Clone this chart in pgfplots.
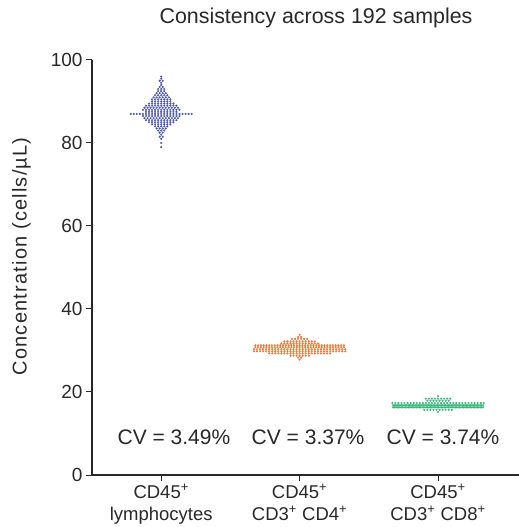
\documentclass[border=0pt]{standalone}
\usepackage{pgfplots}
\pgfplotsset{compat=1.18}
\usepackage{fontspec}
\setmainfont{Liberation Sans}
\newfontfamily\ylabfont[LetterSpace=6]{Liberation Sans}
\definecolor{dotblue}{RGB}{72,82,170}
\definecolor{dotorange}{RGB}{242,114,46}
\definecolor{dotgreen}{RGB}{56,182,122}
\definecolor{txt}{RGB}{40,40,40}
\begin{document}
\begin{tikzpicture}
\useasboundingbox (0,0) rectangle (519bp,527bp);
\begin{axis}[
  at={(92bp,52bp)}, anchor=south west,
  scale only axis, width=427bp, height=415bp,
  xmin=0.5, xmax=3.585, ymin=0, ymax=100,
  axis x line*=bottom, axis y line*=left,
  axis line style={-, txt, line width=1.2bp},
  xtick={1,2,3},
  xticklabels={{CD45\textsuperscript{+}\\lymphocytes},{CD45\textsuperscript{+}\\CD3\textsuperscript{+} CD4\textsuperscript{+}},{CD45\textsuperscript{+}\\CD3\textsuperscript{+} CD8\textsuperscript{+}}},
  ytick={0,20,40,60,80,100},
  tick align=outside, major tick length=6bp,
  tick style={txt, line width=1bp},
  tick label style={font=\fontsize{19bp}{22bp}\selectfont, text=txt},
  xticklabel style={align=center, font=\fontsize{18.5bp}{22bp}\selectfont},
  /pgf/number format/assume math mode=true,
  ylabel={Concentration (cells/µL)},
  ylabel style={at={(axis description cs:-0.165,0.527)}, anchor=center, font=\ylabfont\fontsize{20bp}{24bp}\selectfont, text=txt},
  clip=false,
]
% CD45+ lymphocytes
\addplot[only marks, mark=*, mark size=0.95bp, mark options={draw=dotblue, fill=dotblue, line width=0.2bp}] coordinates {
(1,96) (1,95.5) (0.989,95) (1.011,95) (1,94.5) (1,94)
(0.989,93.5) (1.011,93.5)
(0.978,93) (1,93) (1.022,93)
(0.978,92.5) (1,92.5) (1.022,92.5)
(0.967,92) (0.989,92) (1.011,92) (1.033,92)
(0.956,91.5) (0.978,91.5) (1,91.5) (1.022,91.5) (1.044,91.5)
(0.945,91) (0.967,91) (0.989,91) (1.011,91) (1.033,91) (1.055,91)
(0.934,90.5) (0.956,90.5) (0.978,90.5) (1,90.5) (1.022,90.5) (1.044,90.5) (1.066,90.5)
(0.934,90) (0.956,90) (0.978,90) (1,90) (1.022,90) (1.044,90) (1.066,90)
(0.912,89.5) (0.934,89.5) (0.956,89.5) (0.978,89.5) (1,89.5) (1.022,89.5) (1.044,89.5) (1.066,89.5) (1.088,89.5)
(0.890,89) (0.912,89) (0.934,89) (0.956,89) (0.978,89) (1,89) (1.022,89) (1.044,89) (1.066,89) (1.088,89) (1.110,89)
(0.879,88.5) (0.901,88.5) (0.923,88.5) (0.945,88.5) (0.967,88.5) (0.989,88.5) (1.011,88.5) (1.033,88.5) (1.055,88.5) (1.077,88.5) (1.099,88.5) (1.121,88.5)
(0.868,88) (0.890,88) (0.912,88) (0.934,88) (0.956,88) (0.978,88) (1,88) (1.022,88) (1.044,88) (1.066,88) (1.088,88) (1.110,88) (1.132,88)
(0.890,87.5) (0.912,87.5) (0.934,87.5) (0.956,87.5) (0.978,87.5) (1,87.5) (1.022,87.5) (1.044,87.5) (1.066,87.5) (1.088,87.5) (1.110,87.5)
(0.780,87) (0.802,87) (0.824,87) (0.846,87) (0.868,87) (0.890,87) (0.912,87) (0.934,87) (0.956,87) (0.978,87) (1,87) (1.022,87) (1.044,87) (1.066,87) (1.088,87) (1.110,87) (1.132,87) (1.154,87) (1.176,87) (1.198,87) (1.220,87)
(0.868,86.5) (0.890,86.5) (0.912,86.5) (0.934,86.5) (0.956,86.5) (0.978,86.5) (1,86.5) (1.022,86.5) (1.044,86.5) (1.066,86.5) (1.088,86.5) (1.110,86.5) (1.132,86.5)
(0.879,86) (0.901,86) (0.923,86) (0.945,86) (0.967,86) (0.989,86) (1.011,86) (1.033,86) (1.055,86) (1.077,86) (1.099,86) (1.121,86)
(0.890,85.5) (0.912,85.5) (0.934,85.5) (0.956,85.5) (0.978,85.5) (1,85.5) (1.022,85.5) (1.044,85.5) (1.066,85.5) (1.088,85.5) (1.110,85.5)
(0.912,85) (0.934,85) (0.956,85) (0.978,85) (1,85) (1.022,85) (1.044,85) (1.066,85) (1.088,85)
(0.934,84.5) (0.956,84.5) (0.978,84.5) (1,84.5) (1.022,84.5) (1.044,84.5) (1.066,84.5)
(0.956,84) (0.978,84) (1,84) (1.022,84) (1.044,84)
(0.967,83.5) (0.989,83.5) (1.011,83.5) (1.033,83.5)
(0.978,83) (1,83) (1.022,83)
(0.989,82.5) (1.011,82.5)
(1,82)
(0.989,81.5) (1.011,81.5)
(1,81) (1,80) (1,79)
};
% CD45+ CD3+ CD4+
\addplot[only marks, mark=*, mark size=0.95bp, mark options={draw=dotorange, fill=dotorange, line width=0.2bp}] coordinates {
(2,33.8)
(1.989,33.25) (2.011,33.25)
(1.945,32.8) (1.967,32.8) (1.989,32.8) (2.011,32.8) (2.033,32.8) (2.055,32.8)
(1.890,32.2) (1.912,32.2) (1.934,32.2) (1.956,32.2) (1.978,32.2) (2,32.2) (2.022,32.2) (2.044,32.2) (2.066,32.2) (2.088,32.2) (2.110,32.2)
(1.868,31.7) (1.890,31.7) (1.912,31.7) (1.934,31.7) (1.956,31.7) (1.978,31.7) (2,31.7) (2.022,31.7) (2.044,31.7) (2.066,31.7) (2.088,31.7) (2.110,31.7) (2.132,31.7)
(1.68,31.25) (1.70,31.25) (1.72,31.25) (1.74,31.25) (1.76,31.25) (1.78,31.25) (1.80,31.25) (1.82,31.25) (1.84,31.25) (1.86,31.25) (1.88,31.25) (1.90,31.25) (1.92,31.25) (1.94,31.25) (1.96,31.25) (1.98,31.25) (2.00,31.25)
(2.02,31.25) (2.04,31.25) (2.06,31.25) (2.08,31.25) (2.10,31.25) (2.12,31.25) (2.14,31.25) (2.16,31.25) (2.18,31.25) (2.20,31.25) (2.22,31.25) (2.24,31.25) (2.26,31.25) (2.28,31.25) (2.30,31.25) (2.32,31.25)
(1.68,30.8) (1.70,30.8) (1.72,30.8) (1.74,30.8) (1.76,30.8) (1.78,30.8) (1.80,30.8) (1.82,30.8) (1.84,30.8) (1.86,30.8) (1.88,30.8) (1.90,30.8) (1.92,30.8) (1.94,30.8) (1.96,30.8) (1.98,30.8) (2.00,30.8)
(2.02,30.8) (2.04,30.8) (2.06,30.8) (2.08,30.8) (2.10,30.8) (2.12,30.8) (2.14,30.8) (2.16,30.8) (2.18,30.8) (2.20,30.8) (2.22,30.8) (2.24,30.8) (2.26,30.8) (2.28,30.8) (2.30,30.8) (2.32,30.8)
(1.670,30.3) (1.692,30.3) (1.714,30.3) (1.736,30.3) (1.758,30.3) (1.780,30.3) (1.802,30.3) (1.824,30.3) (1.846,30.3) (1.868,30.3) (1.890,30.3) (1.912,30.3) (1.934,30.3) (1.956,30.3) (1.978,30.3) (2,30.3)
(2.022,30.3) (2.044,30.3) (2.066,30.3) (2.088,30.3) (2.110,30.3) (2.132,30.3) (2.154,30.3) (2.176,30.3) (2.198,30.3) (2.220,30.3) (2.242,30.3) (2.264,30.3) (2.286,30.3) (2.308,30.3) (2.330,30.3)
(1.670,29.8) (1.692,29.8) (1.714,29.8) (1.736,29.8) (1.758,29.8) (1.780,29.8) (1.802,29.8) (1.824,29.8) (1.846,29.8) (1.868,29.8) (1.890,29.8) (1.912,29.8) (1.934,29.8) (1.956,29.8) (1.978,29.8) (2,29.8)
(2.022,29.8) (2.044,29.8) (2.066,29.8) (2.088,29.8) (2.110,29.8) (2.132,29.8) (2.154,29.8) (2.176,29.8) (2.198,29.8) (2.220,29.8) (2.242,29.8) (2.264,29.8) (2.286,29.8) (2.308,29.8) (2.330,29.8)
(1.780,29.3) (1.802,29.3) (1.824,29.3) (1.846,29.3) (1.868,29.3) (1.890,29.3) (1.912,29.3) (1.934,29.3) (1.956,29.3) (1.978,29.3) (2,29.3)
(2.022,29.3) (2.044,29.3) (2.066,29.3) (2.088,29.3) (2.110,29.3) (2.132,29.3) (2.154,29.3) (2.176,29.3) (2.198,29.3) (2.220,29.3)
(1.934,28.75) (1.956,28.75) (1.978,28.75) (2,28.75) (2.022,28.75) (2.044,28.75) (2.066,28.75)
(1.989,28.3) (2.011,28.3)
(2,27.8)
};
% CD45+ CD3+ CD8+
\addplot[only marks, mark=*, mark size=0.95bp, mark options={draw=dotgreen, fill=dotgreen, line width=0.2bp}] coordinates {
(3,19)
(2.912,18.4) (2.934,18.4) (2.956,18.4) (2.978,18.4) (3,18.4) (3.022,18.4) (3.044,18.4) (3.066,18.4) (3.088,18.4)
(2.923,17.9) (2.945,17.9) (2.967,17.9) (2.989,17.9) (3.011,17.9) (3.033,17.9) (3.055,17.9) (3.077,17.9)
(2.670,17.35) (2.692,17.35) (2.714,17.35) (2.736,17.35) (2.758,17.35) (2.780,17.35) (2.802,17.35) (2.824,17.35) (2.846,17.35) (2.868,17.35) (2.890,17.35) (2.912,17.35) (2.934,17.35) (2.956,17.35) (2.978,17.35) (3,17.35)
(3.022,17.35) (3.044,17.35) (3.066,17.35) (3.088,17.35) (3.110,17.35) (3.132,17.35) (3.154,17.35) (3.176,17.35) (3.198,17.35) (3.220,17.35) (3.242,17.35) (3.264,17.35) (3.286,17.35) (3.308,17.35) (3.330,17.35)
(2.675,16.8) (2.685,16.8) (2.695,16.8) (2.705,16.8) (2.715,16.8) (2.725,16.8) (2.735,16.8) (2.745,16.8) (2.755,16.8) (2.765,16.8) (2.775,16.8) (2.785,16.8) (2.795,16.8) (2.805,16.8) (2.815,16.8) (2.825,16.8) (2.835,16.8)
(2.845,16.8) (2.855,16.8) (2.865,16.8) (2.875,16.8) (2.885,16.8) (2.895,16.8) (2.905,16.8) (2.915,16.8) (2.925,16.8) (2.935,16.8) (2.945,16.8) (2.955,16.8) (2.965,16.8) (2.975,16.8) (2.985,16.8) (2.995,16.8)
(3.005,16.8) (3.015,16.8) (3.025,16.8) (3.035,16.8) (3.045,16.8) (3.055,16.8) (3.065,16.8) (3.075,16.8) (3.085,16.8) (3.095,16.8) (3.105,16.8) (3.115,16.8) (3.125,16.8) (3.135,16.8) (3.145,16.8) (3.155,16.8) (3.165,16.8)
(3.175,16.8) (3.185,16.8) (3.195,16.8) (3.205,16.8) (3.215,16.8) (3.225,16.8) (3.235,16.8) (3.245,16.8) (3.255,16.8) (3.265,16.8) (3.275,16.8) (3.285,16.8) (3.295,16.8) (3.305,16.8) (3.315,16.8) (3.325,16.8)
(2.675,16.3) (2.685,16.3) (2.695,16.3) (2.705,16.3) (2.715,16.3) (2.725,16.3) (2.735,16.3) (2.745,16.3) (2.755,16.3) (2.765,16.3) (2.775,16.3) (2.785,16.3) (2.795,16.3) (2.805,16.3) (2.815,16.3) (2.825,16.3) (2.835,16.3)
(2.845,16.3) (2.855,16.3) (2.865,16.3) (2.875,16.3) (2.885,16.3) (2.895,16.3) (2.905,16.3) (2.915,16.3) (2.925,16.3) (2.935,16.3) (2.945,16.3) (2.955,16.3) (2.965,16.3) (2.975,16.3) (2.985,16.3) (2.995,16.3)
(3.005,16.3) (3.015,16.3) (3.025,16.3) (3.035,16.3) (3.045,16.3) (3.055,16.3) (3.065,16.3) (3.075,16.3) (3.085,16.3) (3.095,16.3) (3.105,16.3) (3.115,16.3) (3.125,16.3) (3.135,16.3) (3.145,16.3) (3.155,16.3) (3.165,16.3)
(3.175,16.3) (3.185,16.3) (3.195,16.3) (3.205,16.3) (3.215,16.3) (3.225,16.3) (3.235,16.3) (3.245,16.3) (3.255,16.3) (3.265,16.3) (3.275,16.3) (3.285,16.3) (3.295,16.3) (3.305,16.3) (3.315,16.3) (3.325,16.3)
(2.901,15.7) (2.923,15.7) (2.945,15.7) (2.967,15.7) (2.989,15.7) (3.011,15.7) (3.033,15.7) (3.055,15.7) (3.077,15.7) (3.099,15.7)
(3,15.2)
};
\node[font=\fontsize{21bp}{24bp}\selectfont, text=txt] at (axis cs:1.092,9.2) {CV = 3.49\%};
\node[font=\fontsize{21bp}{24bp}\selectfont, text=txt] at (axis cs:2.061,9.2) {CV = 3.37\%};
\node[font=\fontsize{21bp}{24bp}\selectfont, text=txt] at (axis cs:3.036,9.2) {CV = 3.74\%};
\end{axis}
\node[font=\fontsize{21.4bp}{24bp}\selectfont, text=txt] at (316bp,509bp) {Consistency across 192 samples};
\end{tikzpicture}
\end{document}
